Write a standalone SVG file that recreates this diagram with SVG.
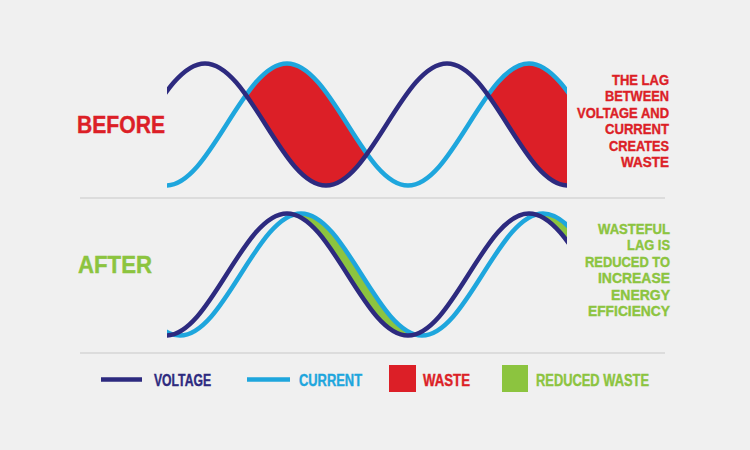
<svg xmlns="http://www.w3.org/2000/svg" width="750" height="450" viewBox="0 0 750 450">
  <style>
    .t { font-family: "Liberation Sans", Arial, sans-serif; font-weight: bold; }
    .red { fill: #dc1f27; }
    .green { fill: #8cc43f; }
    .dark { fill: #2d2a7f; }
    .light { fill: #1ea6dd; }
    .tr { stroke: #dc1f27; stroke-width: 0.4; }
    .tg { stroke: #8cc43f; stroke-width: 0.4; }
    .td { stroke: #2d2a7f; stroke-width: 0.4; }
    .tl { stroke: #1ea6dd; stroke-width: 0.4; }
    .volt { fill: none; stroke: #2d2a7f; stroke-width: 4.5; }
    .curr { fill: none; stroke: #1ea6dd; stroke-width: 4.5; }
    .sep { stroke: #c8c8c8; stroke-width: 1.2; }
  </style>
  <defs>
    <clipPath id="clipX"><rect x="167" y="0" width="400" height="450"/></clipPath>
    <clipPath id="belowCurrBefore">
      <path d="M 45 63.5 C 89 63.5, 122 185.5, 166 185.5 S 243 63.5, 287 63.5 S 364 185.5, 408 185.5 S 485 63.5, 529 63.5 S 606 185.5, 650 185.5 L 650 450 L 45 450 Z"/>
    </clipPath>
    <clipPath id="belowCurrAfter">
      <path d="M 59 213.5 C 103 213.5, 136 335.5, 180 335.5 S 257 213.5, 301 213.5 S 378 335.5, 422 335.5 S 499 213.5, 543 213.5 S 620 335.5, 664 335.5 L 664 450 L 59 450 Z"/>
    </clipPath>
  </defs>
  <rect x="0" y="0" width="750" height="450" fill="#f0f0f0"/>

  <g id="separators">
    <line class="sep" x1="80" y1="198" x2="665" y2="198"/>
    <line class="sep" x1="80" y1="353" x2="665" y2="353"/>
  </g>

  <g id="before-label">
    <text class="t red tr" x="77" y="133" font-size="23" textLength="88" lengthAdjust="spacingAndGlyphs">BEFORE</text>
  </g>
  <g id="after-label">
    <text class="t green tg" x="78" y="273" font-size="23" textLength="74" lengthAdjust="spacingAndGlyphs">AFTER</text>
  </g>

  <g id="before-chart" clip-path="url(#clipX)">
    <path class="red" clip-path="url(#belowCurrBefore)" d="M 84 185.5 C 128 185.5, 161 63.5, 205 63.5 S 282 185.5, 326 185.5 S 403 63.5, 447 63.5 S 524 185.5, 568 185.5 S 645 63.5, 689 63.5 L 689 0 L 84 0 Z"/>
    <path class="curr" d="M 45 63.5 C 89 63.5, 122 185.5, 166 185.5 S 243 63.5, 287 63.5 S 364 185.5, 408 185.5 S 485 63.5, 529 63.5 S 606 185.5, 650 185.5"/>
    <path class="volt" d="M 84 185.5 C 128 185.5, 161 63.5, 205 63.5 S 282 185.5, 326 185.5 S 403 63.5, 447 63.5 S 524 185.5, 568 185.5 S 645 63.5, 689 63.5"/>
  </g>

  <g id="after-chart" clip-path="url(#clipX)">
    <path class="green" clip-path="url(#belowCurrAfter)" d="M 45 213.5 C 89 213.5, 122 335.5, 166 335.5 S 243 213.5, 287 213.5 S 364 335.5, 408 335.5 S 485 213.5, 529 213.5 S 606 335.5, 650 335.5 L 650 0 L 45 0 Z"/>
    <path class="curr" d="M 59 213.5 C 103 213.5, 136 335.5, 180 335.5 S 257 213.5, 301 213.5 S 378 335.5, 422 335.5 S 499 213.5, 543 213.5 S 620 335.5, 664 335.5"/>
    <path class="volt" d="M 45 213.5 C 89 213.5, 122 335.5, 166 335.5 S 243 213.5, 287 213.5 S 364 335.5, 408 335.5 S 485 213.5, 529 213.5 S 606 335.5, 650 335.5"/>
  </g>

  <g id="before-note" class="t red tr" font-size="15" text-anchor="end">
    <text x="669" y="84.5" textLength="57" lengthAdjust="spacingAndGlyphs">THE LAG</text>
    <text x="669" y="101" textLength="64" lengthAdjust="spacingAndGlyphs">BETWEEN</text>
    <text x="669" y="117.5" textLength="92" lengthAdjust="spacingAndGlyphs">VOLTAGE AND</text>
    <text x="669" y="134" textLength="64" lengthAdjust="spacingAndGlyphs">CURRENT</text>
    <text x="669" y="150.5" textLength="60" lengthAdjust="spacingAndGlyphs">CREATES</text>
    <text x="669" y="167" textLength="48" lengthAdjust="spacingAndGlyphs">WASTE</text>
  </g>

  <g id="after-note" class="t green tg" font-size="15" text-anchor="end">
    <text x="670" y="234" textLength="72" lengthAdjust="spacingAndGlyphs">WASTEFUL</text>
    <text x="670" y="250.4" textLength="43" lengthAdjust="spacingAndGlyphs">LAG IS</text>
    <text x="670" y="266.8" textLength="85" lengthAdjust="spacingAndGlyphs">REDUCED TO</text>
    <text x="670" y="283.2" textLength="72" lengthAdjust="spacingAndGlyphs">INCREASE</text>
    <text x="670" y="299.6" textLength="59" lengthAdjust="spacingAndGlyphs">ENERGY</text>
    <text x="670" y="316" textLength="82" lengthAdjust="spacingAndGlyphs">EFFICIENCY</text>
  </g>

  <g id="legend-voltage">
    <line x1="101" y1="379.5" x2="142" y2="379.5" stroke="#2d2a7f" stroke-width="4.5"/>
    <text class="t dark td" x="154" y="385.5" font-size="16" textLength="57" lengthAdjust="spacingAndGlyphs">VOLTAGE</text>
  </g>
  <g id="legend-current">
    <line x1="247" y1="379.5" x2="290" y2="379.5" stroke="#1ea6dd" stroke-width="4.5"/>
    <text class="t light tl" x="299" y="385.5" font-size="16" textLength="63" lengthAdjust="spacingAndGlyphs">CURRENT</text>
  </g>
  <g id="legend-waste">
    <rect class="red" x="389" y="365" width="27" height="27"/>
    <text class="t red tr" x="423" y="385.5" font-size="16" textLength="47" lengthAdjust="spacingAndGlyphs">WASTE</text>
  </g>
  <g id="legend-reduced">
    <rect class="green" x="502" y="365" width="26" height="27"/>
    <text class="t green tg" x="536" y="385.5" font-size="16" textLength="113" lengthAdjust="spacingAndGlyphs">REDUCED WASTE</text>
  </g>
</svg>
